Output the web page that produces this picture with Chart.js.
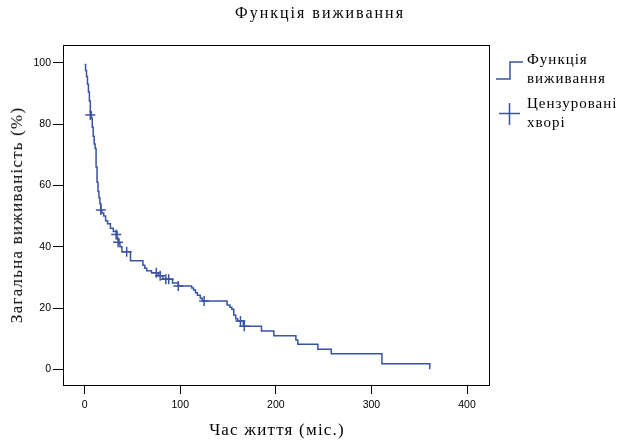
<!DOCTYPE html>
<html lang="uk">
<head>
  <meta charset="UTF-8" />
  <title>Функція виживання</title>
  <script src="https://cdn.jsdelivr.net/npm/chart.js"></script>
  <style>
    html, body { margin: 0; padding: 0; background: #fff; }
    #wrap { position: relative; width: 618px; height: 444px; }
    .txt { position: absolute; font-family: "Liberation Serif", serif; color: #000; white-space: nowrap; }
    #title { left: 0; width: 640px; top: 4px; text-align: center; font-size: 16px; letter-spacing: 2px; }
    #xTitle { left: 0; width: 554px; top: 420px; text-align: center; font-size: 17px; letter-spacing: 1.2px; }
    #yTitle {
      left: 17px; top: 215px; font-size: 17px; letter-spacing: 1.2px;
      transform: translate(-50%, -50%) rotate(-90deg);
    }
    .legend { left: 527px; font-size: 15px; line-height: 19px; letter-spacing: 1px; }
    .icon { position: absolute; }
  </style>
</head>
<body>
<div id="wrap">
  <canvas id="kmChart" width="618" height="444"></canvas>
  <div id="title" class="txt">Функція виживання</div>
  <div id="xTitle" class="txt">Час життя (міс.)</div>
  <div id="yTitle" class="txt">Загальна виживаність (%)</div>
  <svg class="icon" style="left:494px;top:58px" width="32" height="26">
    <path d="M2 21 H16 V4 H29" fill="none" stroke="#3953a4" stroke-width="1.5" />
  </svg>
  <div class="legend txt" style="top:50px">Функція<br>виживання</div>
  <svg class="icon" style="left:497px;top:101px" width="26" height="26">
    <path d="M2 12.5 H23 M12.5 2 V24" fill="none" stroke="#3953a4" stroke-width="1.5" />
  </svg>
  <div class="legend txt" style="top:94px">Цензуровані<br>хворі</div>
</div>

<script>
  // крива Каплана-Мейєра (час, міс. / виживаність, %)
  const kmTimes = [0, 1, 2, 3, 4, 5, 6, 7, 8, 9, 10, 11, 12, 13, 14, 15, 16, 17, 18, 20,
    22, 24, 27, 30, 34, 36, 37, 39, 48, 61, 63, 65, 70, 77, 82, 92, 98, 112, 114, 116,
    118, 121, 123, 149, 152, 154, 156, 158, 160, 166, 185, 198, 221, 223, 244, 258, 311, 361];
  const kmSurv = [99.4, 97.5, 95.5, 93, 90.5, 87.5, 84, 82, 79, 76, 73.5, 72, 66, 61, 58, 56, 54, 52, 51, 50,
    48.5, 47.5, 46, 45, 42.5, 41, 40, 38.4, 35.4, 34, 33, 32.2, 31.5, 30.5, 29.4, 28.2, 27.2, 26.5, 25.9, 25,
    24.2, 23.2, 22.3, 21, 20.3, 19.6, 17.7, 16.5, 15.8, 14.1, 12.5, 11.0, 9.6, 8.2, 6.6, 5.1, 1.8, 0];

  // цензуровані хворі
  const censTimes = [6, 17, 33, 35, 44, 75, 79, 85, 88, 98, 125, 163, 167];
  const censSurv = [83, 52, 44, 41.5, 38.4, 31.5, 30.5, 29.4, 29.4, 27.2, 22.3, 15.8, 14.1];

  const xTicks = [0, 100, 200, 300, 400];
  const yTicks = [0, 20, 40, 60, 80, 100];

  const lineColor = '#3953a4';

  const frame = {
    id: 'frame',
    afterDraw(chart) {
      const { ctx, chartArea: a } = chart;
      ctx.save();
      ctx.strokeStyle = '#000';
      ctx.lineWidth = 1;
      ctx.strokeRect(a.left + 0.5, a.top + 0.5, a.right - a.left, a.bottom - a.top);
      ctx.restore();
    }
  };

  new Chart(document.getElementById('kmChart'), {
    type: 'line',
    data: {
      datasets: [
        {
          label: 'Функція виживання',
          data: kmTimes.map((t, i) => ({ x: t, y: kmSurv[i] })),
          stepped: true,
          borderColor: lineColor,
          borderWidth: 1.5,
          pointRadius: 0,
          fill: false
        },
        {
          label: 'Цензуровані хворі',
          type: 'scatter',
          data: censTimes.map((t, i) => ({ x: t, y: censSurv[i] })),
          pointStyle: 'cross',
          pointRadius: 5,
          borderColor: lineColor,
          borderWidth: 1.5
        }
      ]
    },
    options: {
      responsive: false,
      animation: false,
      layout: { padding: { left: 0, top: 45, right: 129, bottom: 0 } },
      plugins: { legend: { display: false }, tooltip: { enabled: false }, title: { display: false } },
      scales: {
        x: {
          type: 'linear',
          min: -22.6,
          max: 423,
          afterBuildTicks: s => { s.ticks = xTicks.map(v => ({ value: v })); },
          afterFit: s => { s.height = 59; },
          grid: { drawOnChartArea: false, color: '#000', tickLength: 9 },
          border: { color: '#000' },
          ticks: { color: '#000', font: { family: 'Liberation Sans', size: 10.5 }, padding: 5, maxRotation: 0 }
        },
        y: {
          min: -5.1,
          max: 105.8,
          afterBuildTicks: s => { s.ticks = yTicks.map(v => ({ value: v })); },
          afterFit: s => { s.width = 63; },
          grid: { drawOnChartArea: false, color: '#000', tickLength: 10 },
          border: { color: '#000' },
          ticks: { color: '#000', font: { family: 'Liberation Sans', size: 10.5 }, padding: 2 }
        }
      }
    },
    plugins: [frame]
  });
</script>
</body>
</html>
